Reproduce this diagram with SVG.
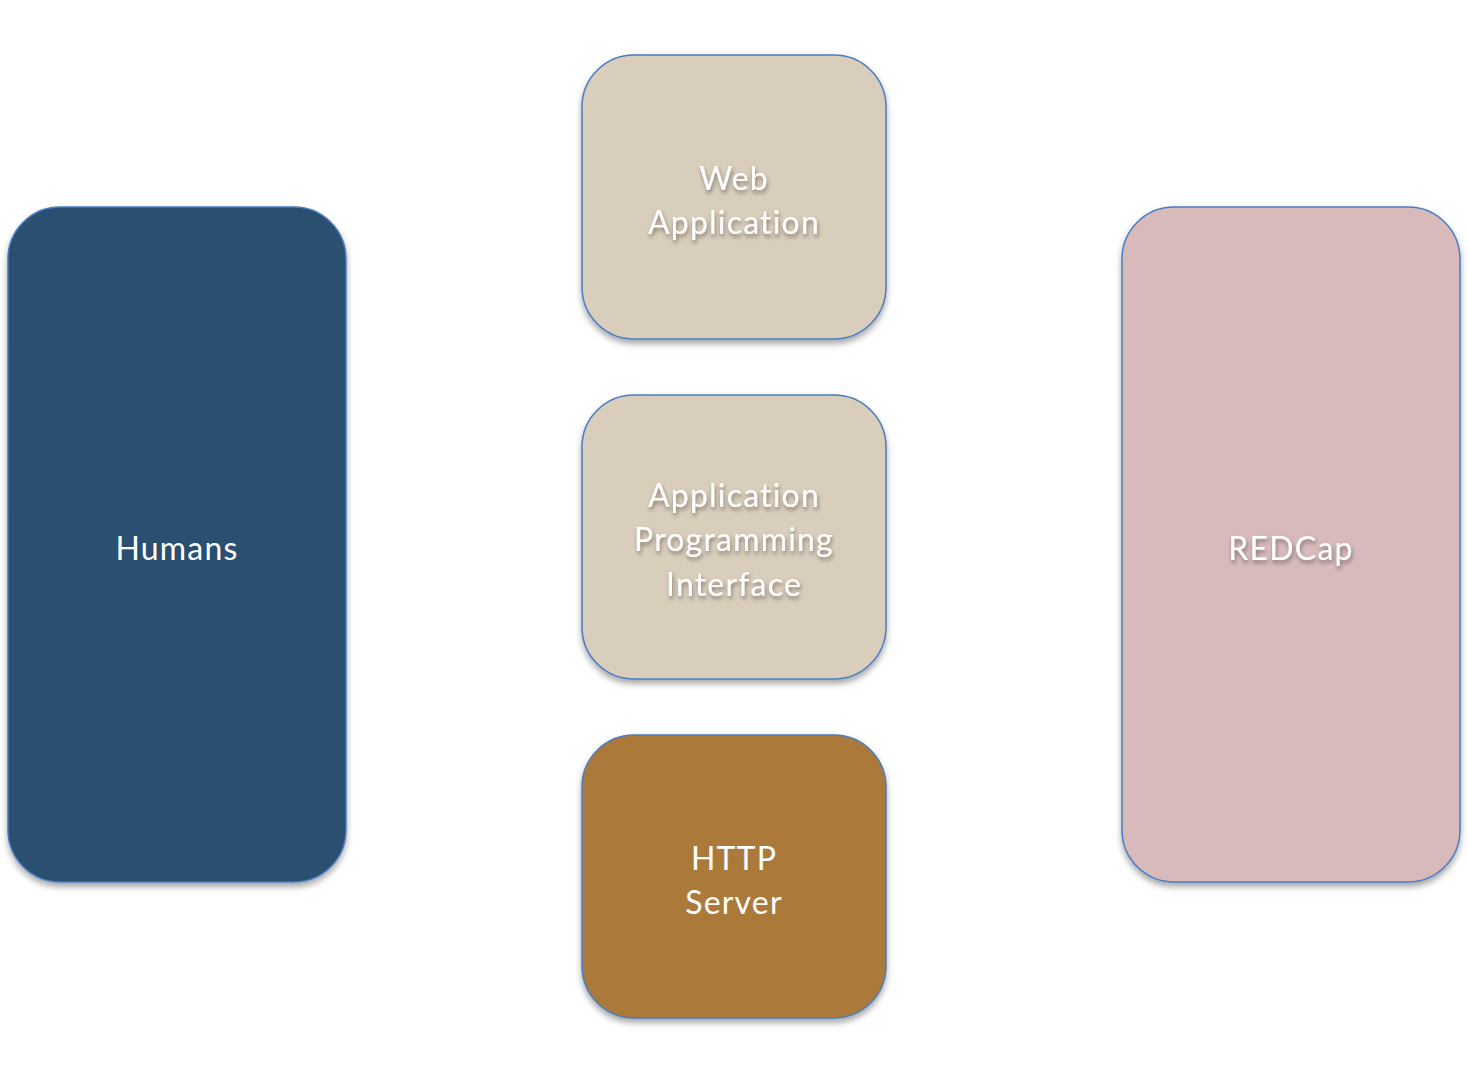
<svg xmlns="http://www.w3.org/2000/svg" width="1468" height="1088" viewBox="0 0 1468 1088">
<defs>
<filter id="sh" x="-10%" y="-10%" width="120%" height="120%">
<feDropShadow dx="0" dy="4" stdDeviation="3" flood-color="#000" flood-opacity="0.35"/>
</filter>
<filter id="tsh" x="-20%" y="-30%" width="140%" height="160%">
<feDropShadow dx="1" dy="3" stdDeviation="2" flood-color="#000" flood-opacity="0.4"/>
</filter>
</defs>
<style>
.box{stroke:#4a7cc0;stroke-width:1.5}
.lbl{font-family:Lato,"Open Sans","Liberation Sans",sans-serif;font-size:32px;letter-spacing:1.2px;fill:#ffffff;text-anchor:middle}
.ts{filter:url(#tsh)}
</style>
<rect width="1468" height="1088" fill="#ffffff"/>
<g id="humans">
<rect class="box" x="8" y="207" width="338" height="675" rx="52" fill="#2a5070" stroke="#2a5070" filter="url(#sh)"/>
<text class="lbl" x="177" y="560">Humans</text>
</g>
<g id="webapp">
<rect class="box" x="582" y="55" width="304" height="284" rx="52" fill="#d9cdbb" filter="url(#sh)"/>
<text class="lbl ts" x="734" y="190">Web</text>
<text class="lbl ts" x="734" y="234">Application</text>
</g>
<g id="api">
<rect class="box" x="582" y="395" width="304" height="284" rx="52" fill="#d9cdbb" filter="url(#sh)"/>
<text class="lbl ts" x="734" y="507">Application</text>
<text class="lbl ts" x="734" y="551">Programming</text>
<text class="lbl ts" x="734" y="596">Interface</text>
</g>
<g id="http">
<rect class="box" x="582" y="735" width="304" height="283" rx="52" fill="#ab7a3a" stroke="#8aa0c0" filter="url(#sh)"/>
<text class="lbl" x="734" y="870">HTTP</text>
<text class="lbl" x="734" y="914">Server</text>
</g>
<g id="redcap">
<rect class="box" x="1122" y="207" width="338" height="675" rx="52" fill="#d8babb" filter="url(#sh)"/>
<text class="lbl ts" x="1291" y="560">REDCap</text>
</g>
<g id="connectors"></g>
</svg>
